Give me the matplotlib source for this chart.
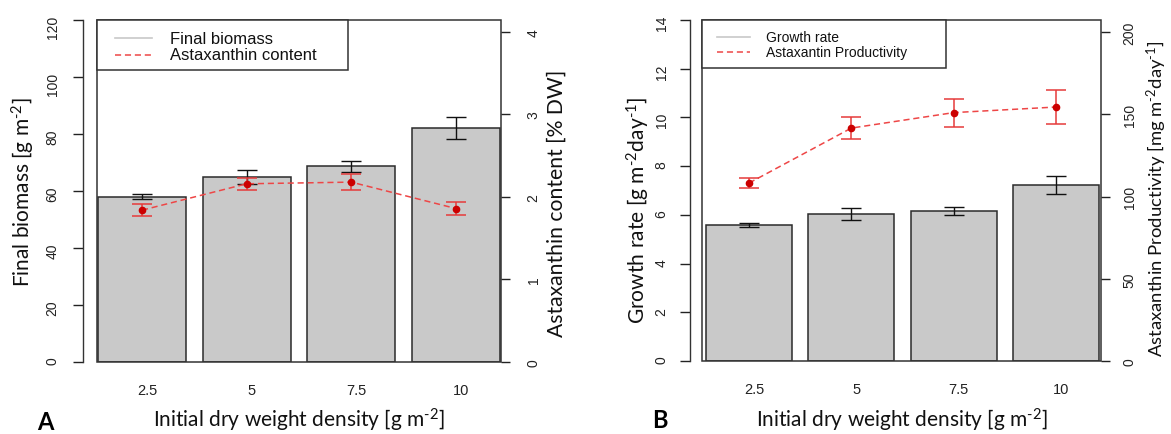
import matplotlib
matplotlib.use("Agg")
import matplotlib.pyplot as plt
from matplotlib.patches import Rectangle
from matplotlib.lines import Line2D
from matplotlib.transforms import ScaledTranslation
import numpy as np

# ---------------- data ----------------
categories = ["2.5", "5", "7.5", "10"]

biomass = [58.0, 64.9, 68.7, 82.0]
biomass_err = [0.9, 2.4, 1.9, 3.8]
asta_content = [1.84, 2.16, 2.18, 1.86]
asta_content_err = [0.07, 0.07, 0.10, 0.08]

growth = [5.57, 6.02, 6.15, 7.21]
growth_err = [0.08, 0.25, 0.17, 0.37]
productivity = [108.2, 141.6, 151.0, 154.4]
productivity_err = [3.0, 6.7, 8.5, 10.6]

# ---------------- style ----------------
plt.rcParams["font.family"] = ["Liberation Sans", "DejaVu Sans"]
plt.rcParams["mathtext.fontset"] = "custom"
plt.rcParams["mathtext.rm"] = "Lato"
plt.rcParams["mathtext.it"] = "Lato:italic"
plt.rcParams["mathtext.bf"] = "Lato:bold"

W, H = 1171, 435
fig = plt.figure(figsize=(W / 100, H / 100), dpi=100)

BAR_COLOR = "#C9C9C9"
EDGE = "#2b2b2b"
TICKC = "#222222"
RED_LINE = "#EE4646"
RED_ERR = "#E63A3A"
RED_PT = "#CC0000"
LABEL_FONT = ["Lato", "DejaVu Sans"]
TICK_FS = 10


def sup(s):
    return r"$^{\text{" + s + "}}$"


def px_axes(x0, x1, y0, y1):
    return fig.add_axes([x0 / W, 1 - y1 / H, (x1 - x0) / W, (y1 - y0) / H])


def panel(box, xlim, left_vals, left_err, left_lim, left_ticks,
          right_vals, right_err, right_lim, right_ticks,
          left_label, right_label, legend_labels, legend_box,
          legend_lines_x, legend_text_x, legend_rows, legend_fs,
          left_offset, lpad, rpad, lfs, rfs):
    ax = px_axes(*box)
    x = np.arange(len(categories))
    ax.bar(x, left_vals, width=0.84, color=BAR_COLOR, edgecolor=EDGE,
           linewidth=1.1, zorder=2)
    ax.errorbar(x, left_vals, yerr=left_err, fmt="none", ecolor="#111111",
                elinewidth=1.0, capsize=7.5, capthick=1.0, zorder=3)
    ax.set_xlim(*xlim)
    ax.set_ylim(*left_lim)
    ax.set_yticks(left_ticks)
    ax.set_xticks(x)
    ax.set_xticklabels(categories)
    ax.tick_params(axis="x", length=0, pad=15, labelsize=10.5, colors=TICKC)
    shift = ScaledTranslation(5 / 100, 0, fig.dpi_scale_trans)
    for lab in ax.get_xticklabels():
        lab.set_transform(lab.get_transform() + shift)
    ax.tick_params(axis="y", length=7, width=1.0, pad=lpad, labelsize=TICK_FS,
                   colors=TICKC, labelrotation=90)
    for lab in ax.get_yticklabels():
        lab.set_va("center")
    for s in ["top", "right", "bottom"]:
        ax.spines[s].set_visible(False)
    ax.spines["left"].set_position(("outward", left_offset))
    ax.spines["left"].set_bounds(left_lim[0], left_ticks[-1])
    ax.spines["left"].set_color("#333333")
    ax.spines["left"].set_linewidth(1.0)
    ax.add_patch(Rectangle((0, 0), 1, 1, transform=ax.transAxes, fill=False,
                           edgecolor="#333333", linewidth=1.1, zorder=5,
                           clip_on=False))
    ax.set_ylabel(left_label, fontsize=lfs, family=LABEL_FONT,
                  color="#111111")

    ax2 = ax.twinx()
    ax2.set_ylim(*right_lim)
    ax2.set_yticks(right_ticks)
    ax2.plot(x, right_vals, linestyle=(0, (4, 2.5)), color=RED_LINE,
             linewidth=1.1, zorder=4)
    ax2.errorbar(x, right_vals, yerr=right_err, fmt="o", color=RED_PT,
                 markersize=4.5, ecolor=RED_ERR, elinewidth=1.1, capsize=7.5,
                 capthick=1.1, zorder=5)
    for s in ["top", "left", "bottom", "right"]:
        ax2.spines[s].set_visible(False)
    ax2.tick_params(axis="y", length=6.5, width=1.0, pad=rpad,
                    labelsize=TICK_FS, colors=TICKC, labelrotation=90)
    for lab in ax2.get_yticklabels():
        lab.set_va("center")
    ax2.set_ylabel(right_label, fontsize=rfs, family=LABEL_FONT,
                   color="#111111")

    # legend (R style box)
    lx1, ly0 = legend_box
    ax2.add_patch(Rectangle((0, ly0), lx1, 1 - ly0, transform=ax.transAxes,
                            facecolor="white", edgecolor="#333333",
                            linewidth=1.1, zorder=6, clip_on=False))
    styles = [dict(color="#C8C8C8", linestyle="-", linewidth=1.2),
              dict(color=RED_LINE, linestyle=(0, (4, 2.5)), linewidth=1.1)]
    for lab, yy, st in zip(legend_labels, legend_rows, styles):
        ax2.add_line(Line2D(legend_lines_x, [yy, yy], transform=ax.transAxes,
                            zorder=7, **st))
        ax2.text(legend_text_x, yy, lab, transform=ax.transAxes, va="center",
                 ha="left", fontsize=legend_fs, color="#111111", zorder=7)
    return ax, ax2


axA, axA2 = panel(
    box=(97, 501, 21, 363), xlim=(-0.43, 3.43),
    left_vals=biomass, left_err=biomass_err, left_lim=(0, 120),
    left_ticks=[0, 20, 40, 60, 80, 100, 120],
    right_vals=asta_content, right_err=asta_content_err,
    right_lim=(0, 4.145), right_ticks=[0, 1, 2, 3, 4],
    left_label="Final biomass [g m" + sup("-2") + "]",
    right_label="Astaxanthin content [% DW]",
    legend_labels=["Final biomass", "Astaxanthin content"],
    legend_box=(0.621, 0.854), legend_lines_x=[0.0446, 0.136],
    legend_text_x=0.181, legend_rows=[0.947, 0.898], legend_fs=12,
    left_offset=10, lpad=10, rpad=12, lfs=15, rfs=15.2)

axB, axB2 = panel(
    box=(702, 1101, 21, 362), xlim=(-0.46, 3.44),
    left_vals=growth, left_err=growth_err, left_lim=(0, 13.96),
    left_ticks=[0, 2, 4, 6, 8, 10, 12, 14],
    right_vals=productivity, right_err=productivity_err,
    right_lim=(0, 207.3), right_ticks=[0, 50, 100, 150, 200],
    left_label="Growth rate [g m" + sup("-2") + "day" + sup("-1") + "]",
    right_label="Astaxanthin Productivity [mg m" + sup("-2") + "day"
    + sup("-1") + "]",
    legend_labels=["Growth rate", "Astaxantin Productivity"],
    legend_box=(0.6115, 0.859), legend_lines_x=[0.0376, 0.120],
    legend_text_x=0.160, legend_rows=[0.950, 0.906], legend_fs=10,
    left_offset=9, lpad=8, rpad=9, lfs=15.1, rfs=13.3)

xlab = "Initial dry weight density [g m" + sup("-2") + "]"
fig.text(299 / W, 1 - 420 / H, xlab, ha="center", va="center",
         fontsize=15, family=LABEL_FONT, color="#111111")
fig.text(902 / W, 1 - 420 / H, xlab, ha="center", va="center",
         fontsize=15, family=LABEL_FONT, color="#111111")
fig.text(45 / W, 1 - 423 / H, "A", ha="center", va="center", fontsize=17,
         fontweight="bold", family=LABEL_FONT)
fig.text(660 / W, 1 - 421 / H, "B", ha="center", va="center", fontsize=17,
         fontweight="bold", family=LABEL_FONT)

label_pos = [(axA, 23, 192), (axA2, 557, 203), (axB, 638, 210),
             (axB2, 1157, 199)]
for a, px, py in label_pos:
    a.yaxis.set_label_coords(px / W, 1 - py / H, transform=fig.transFigure)
    a.yaxis.label.set_va("center")

fig.savefig("out.png", dpi=100)
